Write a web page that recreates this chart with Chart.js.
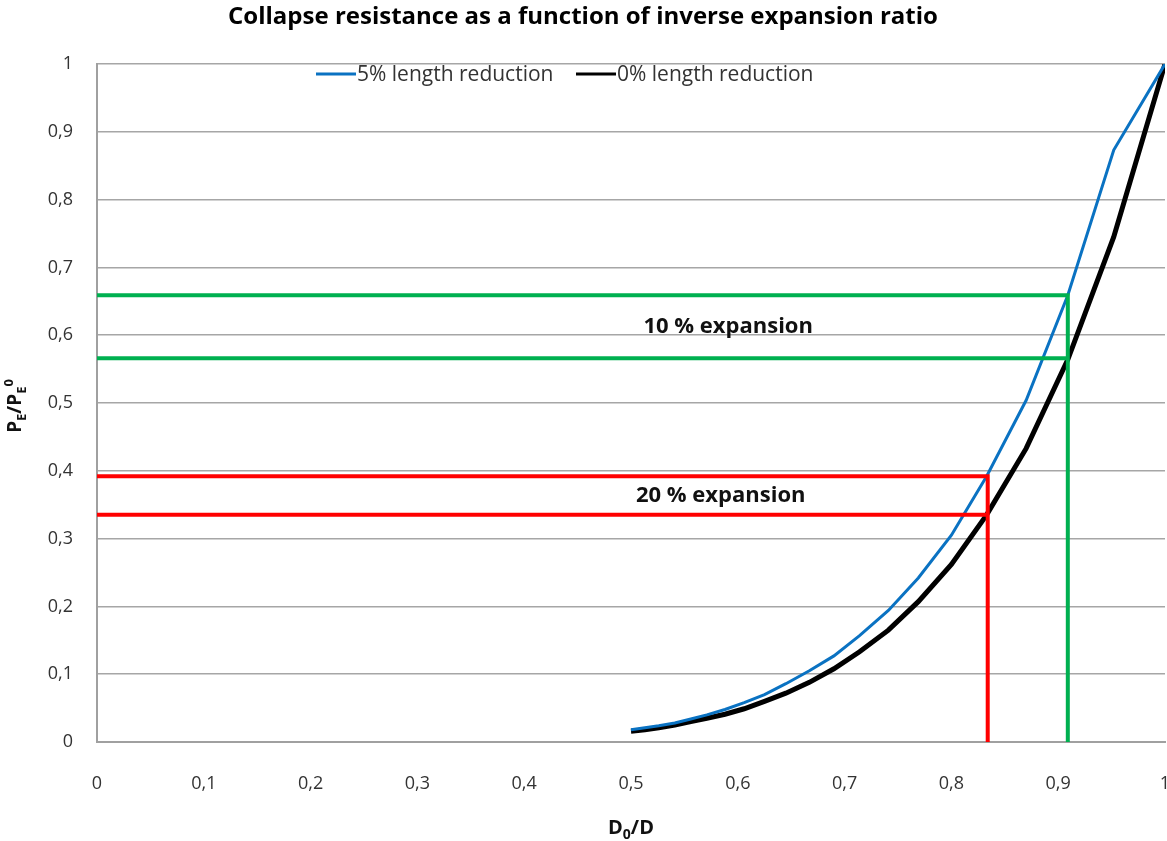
<!DOCTYPE html>
<html>
<head>
<meta charset="utf-8">
<script src="https://cdn.jsdelivr.net/npm/chart.js@4/dist/chart.umd.min.js"></script>
<style>
  body { margin: 0; background: #fff; }
  #wrap { width: 1167px; height: 841px; }
</style>
</head>
<body>
<div id="wrap"><canvas id="chart" width="1167" height="841"></canvas></div>
<script>
// inverse expansion ratio D0/D
const ratioX = [0.5, 0.513, 0.526, 0.541, 0.556, 0.571, 0.588, 0.606, 0.625, 0.645, 0.667,
                0.69, 0.714, 0.741, 0.769, 0.8, 0.833, 0.87, 0.909, 0.952, 1];
const reduction5 = [0.018, 0.021, 0.024, 0.028, 0.034, 0.040, 0.048, 0.058, 0.070, 0.086, 0.105,
                    0.127, 0.157, 0.194, 0.242, 0.305, 0.392, 0.504, 0.659, 0.873, 1];
const reduction0 = [0.016, 0.018, 0.021, 0.025, 0.030, 0.035, 0.041, 0.049, 0.060, 0.072, 0.088,
                    0.108, 0.133, 0.165, 0.207, 0.262, 0.335, 0.433, 0.564, 0.745, 1];

// reading lines for 10 % and 20 % expansion
const exp10X = 0.909, exp10Y = [0.659, 0.566];
const exp20X = 0.834, exp20Y = [0.392, 0.335];

const notes = ['10 % expansion', '20 % expansion'];
const noteX = [0.591, 0.584];
const noteY = [0.612, 0.363];

const titleText = 'Collapse resistance as a function of inverse expansion ratio';
const seriesNames = ['5% length reduction', '0% length reduction'];

const pts = (xs, ys) => xs.map((x, i) => ({ x: x, y: ys[i] }));
const fmt = v => String(Math.round(v * 10) / 10).replace('.', ',');

function refLine(x, y, color, withDrop) {
    const d = withDrop ? [{ x: 0, y: y }, { x: x, y: y }, { x: x, y: 0 }] : [{ x: 0, y: y }, { x: x, y: y }];
    return { data: d, borderColor: color, borderWidth: 4, pointRadius: 0, showLine: true, order: 0, fill: false };
}

// draws subscript/superscript pieces left to right, centred on 0,0
function drawRich(ctx, parts, size) {
    const small = Math.round(size * 0.7);
    let w = 0;
    parts.forEach(p => {
        ctx.font = 'bold ' + (p.s ? small : size) + 'px "Open Sans"';
        p.w = ctx.measureText(p.t).width;
        w += p.w;
    });
    let x = -w / 2;
    ctx.textAlign = 'left';
    ctx.textBaseline = 'alphabetic';
    parts.forEach(p => {
        ctx.font = 'bold ' + (p.s ? small : size) + 'px "Open Sans"';
        const dy = p.s === 'sub' ? size * 0.25 : p.s === 'sup' ? -size * 0.42 : 0;
        ctx.fillText(p.t, x, size * 0.36 + dy);
        x += p.w;
    });
}

const textPlugin = {
    id: 'texts',
    afterDatasetsDraw(chart) {
        const ctx = chart.ctx;
        const xs = chart.scales.x, ys = chart.scales.y;
        ctx.save();
        ctx.fillStyle = '#000';
        ctx.font = 'bold 24px "Open Sans"';
        ctx.textAlign = 'center';
        ctx.textBaseline = 'middle';
        ctx.fillText(titleText, 583, 17);

        // annotations
        ctx.font = 'bold 22px "Open Sans"';
        ctx.fillStyle = '#111';
        notes.forEach((n, i) => ctx.fillText(n, xs.getPixelForValue(noteX[i]), ys.getPixelForValue(noteY[i])));

        // legend
        const legX = [316, 576];
        ctx.font = '21px "Open Sans"';
        ctx.textAlign = 'left';
        ctx.fillStyle = '#333';
        for (let i = 0; i < 2; i++) {
            const ds = chart.data.datasets[i];
            ctx.strokeStyle = ds.borderColor;
            ctx.lineWidth = 3;
            ctx.beginPath();
            ctx.moveTo(legX[i], 74);
            ctx.lineTo(legX[i] + 40, 74);
            ctx.stroke();
            ctx.fillText(ds.label, legX[i] + 41, 75);
        }

        // axis titles
        ctx.fillStyle = '#111';
        ctx.save();
        ctx.translate(631, 827);
        drawRich(ctx, [{ t: 'D' }, { t: '0', s: 'sub' }, { t: '/D' }], 20);
        ctx.restore();
        ctx.save();
        ctx.translate(14, 406);
        ctx.rotate(-Math.PI / 2);
        drawRich(ctx, [{ t: 'P' }, { t: 'E', s: 'sub' }, { t: '/P' }, { t: 'E', s: 'sub' }, { t: '0', s: 'sup' }], 19);
        ctx.restore();
        ctx.restore();
    }
};

new Chart(document.getElementById('chart'), {
    type: 'scatter',
    data: {
        datasets: [
            { label: seriesNames[0], data: pts(ratioX, reduction5), borderColor: '#0a72c2', borderWidth: 3,
              pointRadius: 0, showLine: true, order: 1 },
            { label: seriesNames[1], data: pts(ratioX, reduction0), borderColor: '#000000', borderWidth: 5,
              pointRadius: 0, showLine: true, order: 2 },
            refLine(exp10X, exp10Y[0], '#00b050', true),
            refLine(exp10X, exp10Y[1], '#00b050', false),
            refLine(exp20X, exp20Y[0], '#ff0000', true),
            refLine(exp20X, exp20Y[1], '#ff0000', false)
        ]
    },
    options: {
        responsive: false,
        animation: false,
        layout: { padding: { top: 64, right: 2, left: 0, bottom: 0 } },
        plugins: { legend: { display: false }, title: { display: false }, tooltip: { enabled: false } },
        scales: {
            x: {
                type: 'linear', min: 0, max: 1,
                ticks: { stepSize: 0.1, callback: fmt, padding: 31, color: '#333',
                         font: { family: 'Open Sans', size: 18 }, maxRotation: 0 },
                grid: { display: false, drawTicks: false },
                border: { display: true, color: '#a0a0a0', width: 2 },
                afterFit: s => { s.height = 99; s.paddingLeft = 0; s.paddingRight = 0; }
            },
            y: {
                min: 0, max: 1,
                ticks: { stepSize: 0.1, callback: fmt, padding: 24, color: '#333',
                         font: { family: 'Open Sans', size: 18 } },
                grid: { color: '#a6a6a6', lineWidth: 1.5, drawTicks: false },
                border: { display: true, color: '#a0a0a0', width: 2 },
                afterFit: s => { s.width = 97; s.paddingTop = 0; s.paddingBottom = 0; }
            }
        }
    },
    plugins: [textPlugin]
});
</script>
</body>
</html>
